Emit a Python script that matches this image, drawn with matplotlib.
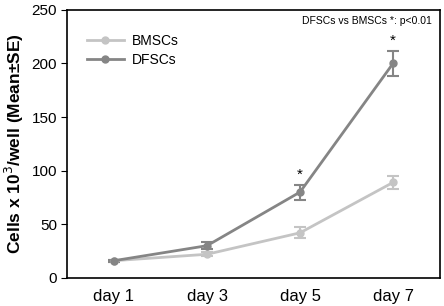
import matplotlib
matplotlib.use("Agg")
import matplotlib.pyplot as plt
from matplotlib.lines import Line2D

plt.rcParams['font.family'] = ['Liberation Sans', 'DejaVu Sans']

days = ["day 1", "day 3", "day 5", "day 7"]
bmsc = [16, 22, 42, 89]
bmsc_err = [1, 2, 5, 6]
dfsc = [16, 30, 80, 200]
dfsc_err = [1, 3, 7, 12]
sig_idx = [2, 3]

c_b = '#c4c4c4'
c_d = '#858585'

fig = plt.figure(figsize=(4.44, 3.06), dpi=100)
ax = fig.add_axes([0.152, 0.092, 0.838, 0.876])
x = list(range(len(days)))

ax.errorbar(x, bmsc, yerr=bmsc_err, color=c_b, marker='o', markersize=5,
            linewidth=2, elinewidth=1.5, capsize=4, capthick=1.5)
ax.errorbar(x, dfsc, yerr=dfsc_err, color=c_d, marker='o', markersize=5,
            linewidth=2, elinewidth=1.5, capsize=4, capthick=1.5)

for i in sig_idx:
    ax.text(x[i], dfsc[i] + dfsc_err[i] + 3, '*', ha='center', va='bottom', fontsize=11)

ax.set_xlim(-0.5, 3.5)
ax.set_ylim(0, 250)
ax.set_yticks([0, 50, 100, 150, 200, 250])
ax.set_xticks(x)
ax.set_xticklabels(days, fontsize=12)
ax.tick_params(axis='y', labelsize=11, length=4, direction='out')
ax.tick_params(axis='x', length=0, pad=8)
for s in ax.spines.values():
    s.set_linewidth(1.2)
ax.set_ylabel('Cells x 10$^3$/well (Mean±SE)', fontsize=12.5, fontweight='bold')

ax.text(0.98, 0.975, 'DFSCs vs BMSCs *: p<0.01', transform=ax.transAxes,
        ha='right', va='top', fontsize=7.5)

handles = [Line2D([], [], color=c_b, marker='o', markersize=5, linewidth=2),
           Line2D([], [], color=c_d, marker='o', markersize=5, linewidth=2)]
ax.legend(handles, ['BMSCs', 'DFSCs'], loc='upper left', bbox_to_anchor=(0.02, 0.955),
          frameon=False, fontsize=10, handlelength=2.6, labelspacing=0.3, handletextpad=0.6)

fig.savefig('out.png', dpi=100)
